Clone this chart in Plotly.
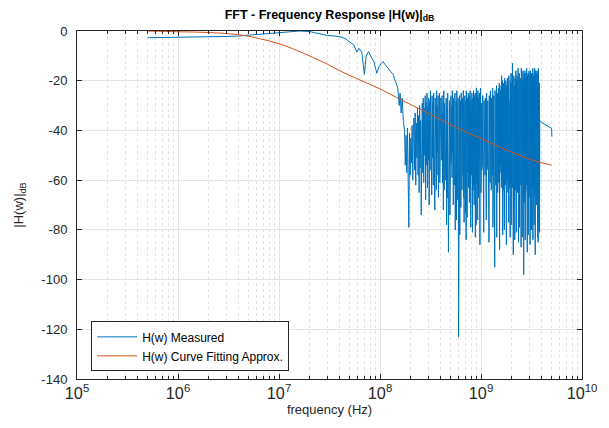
import plotly.graph_objects as go

# ---------------- Data ----------------
# Measured response, smooth low-frequency part (Hz, dB)
meas_smooth_hz = [5e5, 7e5, 1e6, 1.5e6, 2e6, 3e6, 4e6, 5e6, 7e6, 1e7,
                  1.3e7, 1.6e7, 2e7, 2.3e7, 2.6e7, 3e7, 3.5e7, 4e7, 4.5e7, 5e7,
                  5.5e7, 5.9e7, 6.2e7, 6.6e7, 7.0e7, 7.3e7, 7.7e7, 8.2e7, 8.7e7, 9.3e7,
                  9.8e7, 1.03e8, 1.07e8, 1.12e8, 1.2e8, 1.28e8, 1.35e8, 1.4e8, 1.45e8, 1.5e8,
                  1.55e8, 1.58e8, 1.62e8, 1.66e8, 1.7e8]
meas_smooth_db = [-2.7, -2.65, -2.6, -2.5, -2.4, -2.2, -2.0, -1.7, -1.2, -0.6,
                  -0.2, 0.0, -0.2, -0.8, -1.4, -1.8, -2.0, -2.3, -3.0, -4.2,
                  -5.6, -8.5, -7.0, -8.5, -17.4, -10.0, -8.3, -10.5, -12.3, -17.0,
                  -14.3, -13.0, -12.3, -13.5, -15.0, -16.0, -17.5, -19.7, -21.0, -23.0,
                  -30.0, -25.0, -33.0, -27.0, -36.0]

# Measured response, noisy part 175-400 MHz
meas_a_mhz = [175, 178, 181, 184, 187, 190, 193, 196, 199, 202,
              205, 208, 211, 214, 217, 220, 223, 226, 229, 232,
              235, 238, 241, 244, 247, 250, 253, 256, 259, 262,
              265, 268, 271, 274, 277, 280, 283, 286, 289, 292,
              295, 298, 301, 304, 307, 310, 313, 316, 319, 322,
              325, 328, 331, 334, 337, 340, 343, 346, 349, 352,
              355, 358, 361, 364, 367, 370, 373, 376, 379, 382,
              385, 388, 391, 394, 397, 400]
meas_a_db = [-40, -54, -42, -57, -39, -52, -79, -41, -58, -43,
             -53, -38, -60, -40, -35, -56, -33, -62, -37, -51,
             -31, -58, -34, -65, -30, -55, -36, -74, -32, -29,
             -57, -27, -61, -31, -50, -26, -68, -29, -54, -25,
             -63, -30, -52, -27, -70, -28, -56, -24, -59, -31,
             -66, -26, -51, -29, -62, -25, -55, -30, -72, -27,
             -53, -28, -64, -24, -58, -30, -49, -26, -67, -29,
             -55, -25, -61, -28, -52, -27]

# Measured response, noisy part 404-1000 MHz
meas_b_mhz = [404, 408, 412, 416, 420, 424, 428, 432, 436, 440,
              444, 448, 452, 456, 460, 464, 468, 472, 476, 480,
              484, 488, 492, 496, 500, 504, 508, 512, 516, 520,
              524, 528, 532, 536, 540, 544, 548, 552, 556, 560,
              564, 568, 572, 576, 580, 584, 588, 592, 596, 600,
              604, 608, 612, 616, 620, 624, 628, 632, 636, 640,
              644, 648, 652, 656, 660, 664, 668, 672, 676, 680,
              684, 688, 692, 696, 700, 704, 708, 712, 716, 720,
              724, 728, 732, 736, 740, 744, 748, 752, 756, 760,
              764, 768, 772, 776, 780, 784, 788, 792, 796, 800,
              804, 808, 812, 816, 820, 824, 828, 832, 836, 840,
              844, 848, 852, 856, 860, 864, 868, 872, 876, 880,
              884, 888, 892, 896, 900, 904, 908, 912, 916, 920,
              924, 928, 932, 936, 940, 944, 948, 952, 956, 960,
              964, 968, 972, 976, 980, 984, 988, 992, 996, 1000]
meas_b_db = [-30, -52, -26, -61, -33, -72, -24, -64, -29, -55,
             -35, -60, -27, -78, -31, -67, -25, -54, -89, -32,
             -58, -28, -74, -34, -63, -26, -53, -30, -59, -24,
             -49, -33, -70, -27, -55, -31, -62, -25, -80, -36,
             -65, -28, -76, -24, -57, -32, -68, -27, -53, -123,
             -30, -56, -26, -82, -34, -60, -28, -71, -25, -52,
             -31, -64, -27, -49, -35, -58, -24, -67, -29, -77,
             -33, -61, -26, -55, -30, -73, -28, -84, -24, -62,
             -32, -75, -27, -66, -35, -57, -25, -63, -29, -51,
             -26, -69, -31, -54, -24, -60, -34, -79, -28, -65,
             -30, -58, -25, -52, -33, -81, -27, -56, -29, -64,
             -24, -50, -32, -70, -26, -55, -30, -62, -25, -83,
             -34, -66, -27, -78, -23, -61, -31, -57, -26, -72,
             -29, -76, -24, -63, -33, -67, -27, -54, -30, -59,
             -25, -75, -31, -86, -27, -60, -23, -56, -32, -65]

# Measured response, dense noisy part 1.008-3.8 GHz
meas_c_mhz = [1008, 1016, 1024, 1032, 1040, 1048, 1056, 1064, 1072, 1080,
              1088, 1096, 1104, 1112, 1120, 1128, 1136, 1144, 1152, 1160,
              1168, 1176, 1184, 1192, 1200, 1208, 1216, 1224, 1232, 1240,
              1248, 1256, 1264, 1272, 1280, 1288, 1296, 1304, 1312, 1320,
              1328, 1336, 1344, 1352, 1360, 1368, 1376, 1384, 1392, 1400,
              1408, 1416, 1424, 1432, 1440, 1448, 1456, 1464, 1472, 1480,
              1488, 1496, 1504, 1512, 1520, 1528, 1536, 1544, 1552, 1560,
              1568, 1576, 1584, 1592, 1600, 1608, 1616, 1624, 1632, 1640,
              1648, 1656, 1664, 1672, 1680, 1688, 1696, 1704, 1712, 1720,
              1728, 1736, 1744, 1752, 1760, 1768, 1776, 1784, 1792, 1800,
              1808, 1816, 1824, 1832, 1840, 1848, 1856, 1864, 1872, 1880,
              1888, 1896, 1904, 1912, 1920, 1928, 1936, 1944, 1952, 1960,
              1968, 1976, 1984, 1992, 2000, 2008, 2016, 2024, 2032, 2040,
              2048, 2056, 2064, 2072, 2080, 2088, 2096, 2104, 2112, 2120,
              2128, 2136, 2144, 2152, 2160, 2168, 2176, 2184, 2192, 2200,
              2208, 2216, 2224, 2232, 2240, 2248, 2256, 2264, 2272, 2280,
              2288, 2296, 2304, 2312, 2320, 2328, 2336, 2344, 2352, 2360,
              2368, 2376, 2384, 2392, 2400, 2408, 2416, 2424, 2432, 2440,
              2448, 2456, 2464, 2472, 2480, 2488, 2496, 2504, 2512, 2520,
              2528, 2536, 2544, 2552, 2560, 2568, 2576, 2584, 2592, 2600,
              2608, 2616, 2624, 2632, 2640, 2648, 2656, 2664, 2672, 2680,
              2688, 2696, 2704, 2712, 2720, 2728, 2736, 2744, 2752, 2760,
              2768, 2776, 2784, 2792, 2800, 2808, 2816, 2824, 2832, 2840,
              2848, 2856, 2864, 2872, 2880, 2888, 2896, 2904, 2912, 2920,
              2928, 2936, 2944, 2952, 2960, 2968, 2976, 2984, 2992, 3000,
              3008, 3016, 3024, 3032, 3040, 3048, 3056, 3064, 3072, 3080,
              3088, 3096, 3104, 3112, 3120, 3128, 3136, 3144, 3152, 3160,
              3168, 3176, 3184, 3192, 3200, 3208, 3216, 3224, 3232, 3240,
              3248, 3256, 3264, 3272, 3280, 3288, 3296, 3304, 3312, 3320,
              3328, 3336, 3344, 3352, 3360, 3368, 3376, 3384, 3392, 3400,
              3408, 3416, 3424, 3432, 3440, 3448, 3456, 3464, 3472, 3480,
              3488, 3496, 3504, 3512, 3520, 3528, 3536, 3544, 3552, 3560,
              3568, 3576, 3584, 3592, 3600, 3608, 3616, 3624, 3632, 3640,
              3648, 3656, 3664, 3672, 3680, 3688, 3696, 3704, 3712, 3720,
              3728, 3736, 3744, 3752, 3760, 3768, 3776, 3784, 3792, 3800]
meas_c_db = [-29, -56, -33, -54, -26, -60, -31, -81, -28, -55,
             -32, -58, -27, -54, -30, -76, -25, -56, -33, -55,
             -28, -59, -31, -54, -85, -26, -57, -32, -61, -24,
             -55, -29, -64, -27, -54, -31, -58, -23, -79, -30,
             -56, -26, -60, -29, -55, -95, -24, -57, -31, -62,
             -27, -55, -22, -83, -30, -58, -25, -65, -28, -54,
             -23, -61, -29, -55, -21, -88, -27, -57, -24, -54,
             -30, -58, -22, -63, -18, -55, -26, -60, -20, -82,
             -27, -56, -21, -64, -29, -54, -23, -80, -19, -57,
             -25, -62, -28, -55, -20, -59, -24, -86, -22, -56,
             -29, -60, -19, -55, -26, -65, -21, -57, -27, -77,
             -18, -56, -25, -63, -22, -58, -28, -83, -20, -55,
             -24, -61, -17, -78, -27, -56, -21, -59, -25, -63,
             -13, -57, -26, -55, -20, -90, -23, -58, -18, -71,
             -27, -62, -22, -56, -84, -19, -60, -25, -55, -21,
             -64, -16, -57, -26, -81, -20, -58, -24, -62, -18,
             -56, -28, -65, -21, -59, -15, -61, -25, -85, -19,
             -58, -23, -55, -17, -79, -26, -59, -20, -63, -22,
             -57, -27, -62, -19, -58, -24, -87, -15, -60, -21,
             -64, -18, -56, -25, -83, -20, -59, -27, -62, -16,
             -58, -22, -66, -19, -56, -98, -24, -61, -17, -69,
             -21, -59, -26, -63, -16, -56, -23, -84, -19, -58,
             -25, -65, -17, -57, -22, -62, -28, -56, -15, -78,
             -20, -60, -24, -89, -18, -58, -26, -63, -21, -57,
             -17, -82, -23, -59, -19, -64, -25, -56, -16, -67,
             -24, -59, -18, -65, -22, -57, -27, -86, -20, -61,
             -16, -58, -25, -63, -19, -80, -23, -56, -17, -62,
             -26, -60, -80, -21, -57, -17, -67, -24, -59, -19,
             -63, -15, -84, -22, -57, -26, -71, -18, -59, -23,
             -64, -20, -58, -25, -78, -17, -61, -22, -57, -15,
             -66, -24, -60, -18, -90, -21, -58, -26, -62, -16,
             -87, -22, -63, -19, -59, -25, -65, -17, -70, -20,
             -58, -24, -67, -16, -60, -21, -64, -23, -83, -18,
             -61, -25, -57, -17, -85, -20, -62, -15, -59, -22,
             -64, -19, -60, -24, -79, -16, -63, -21, -66, -81]

# Measured response, tail above the dense band
meas_tail_hz = [3.815e9, 4.0e9, 4.3e9, 4.6e9, 4.9e9, 5.0e9, 5.03e9]
meas_tail_db = [-36.0, -36.8, -37.5, -38.2, -38.8, -39.2, -42.5]

# Curve-fitting approximation (Hz, dB)
fit_hz = [5e5, 1e6, 2e6, 4e6, 6e6, 1e7, 1.5e7, 2e7, 3e7, 4e7, 6e7,
          1e8, 1.5e8, 2.5e8, 4e8, 6e8, 1e9, 1.5e9, 2e9, 3e9, 4e9, 5e9]
fit_db = [0.0, -0.3, -0.6, -1.5, -2.8, -5.1, -7.8, -10.0, -13.3, -16.0, -19.3,
          -23.3, -27.0, -31.5, -35.7, -39.3, -43.2, -46.5, -48.7, -51.5, -53.0, -54.0]

y_tick_vals = [0, -20, -40, -60, -80, -100, -120, -140]
y_tick_text = ["0", "-20", "-40", "-60", "-80", "-100", "-120", "-140"]

# ---------------- Assemble ----------------
meas_hz = (list(meas_smooth_hz)
           + [m * 1e6 for m in meas_a_mhz]
           + [m * 1e6 for m in meas_b_mhz]
           + [m * 1e6 for m in meas_c_mhz]
           + list(meas_tail_hz))
meas_db = meas_smooth_db + meas_a_db + meas_b_db + meas_c_db + meas_tail_db

BLUE = "#0072BD"
ORANGE = "#D95319"
AX = "#262626"

fig = go.Figure()
fig.add_trace(go.Scatter(x=meas_hz, y=meas_db, mode="lines", name="H(w) Measured",
                         line=dict(color=BLUE, width=1)))
fig.add_trace(go.Scatter(x=fit_hz, y=fit_db, mode="lines", name="H(w) Curve Fitting Approx.",
                         line=dict(color=ORANGE, width=1, shape="spline")))

# The page body adds an 8 px margin, so the figure is 601x420 and offset by 8 px.
fig.update_layout(
    width=601, height=420,
    margin=dict(l=69, r=27, t=23, b=49, autoexpand=False),
    paper_bgcolor="white", plot_bgcolor="white",
    font=dict(family="Liberation Sans, Arial, sans-serif", color=AX, size=13),
    title=dict(text="<b>FFT - Frequency Response |H(w)|<sub>dB</sub></b>",
               x=0.5, xref="paper", xanchor="center",
               y=1.0, yref="container", yanchor="top", pad=dict(t=2, b=0),
               font=dict(size=12.5, color="black")),
    showlegend=True,
    legend=dict(x=0.028, y=0.022, xanchor="left", yanchor="bottom",
                bgcolor="white", bordercolor=AX, borderwidth=1,
                font=dict(size=12, color="black"), itemwidth=40,
                tracegroupgap=0),
)

fig.update_xaxes(
    type="log", range=[5, 10], dtick=1, exponentformat="power",
    showline=True, linecolor=AX, linewidth=1, mirror="ticks",
    ticks="inside", ticklen=5, tickcolor=AX, automargin=False,
    showgrid=True, gridcolor="#e4e4e4", gridwidth=1, zeroline=False,
    minor=dict(ticks="inside", ticklen=3, tickcolor=AX,
               showgrid=True, gridcolor="#e2e2e2", griddash="dot"),
    tickfont=dict(size=13),
    title=dict(text="frequency (Hz)", font=dict(size=13), standoff=2),
)
fig.update_yaxes(
    range=[-140, 0], tickvals=y_tick_vals, ticktext=y_tick_text,
    showline=True, linecolor=AX, linewidth=1, mirror="ticks",
    ticks="inside", ticklen=5, tickcolor=AX, automargin=False,
    showgrid=True, gridcolor="#e4e4e4", gridwidth=1, zeroline=False,
    tickfont=dict(size=13), ticklabelstandoff=6,
    title=dict(text="|H(w)|<sub>dB</sub>", font=dict(size=13), standoff=14),
)

fig.write_html("out.html")
